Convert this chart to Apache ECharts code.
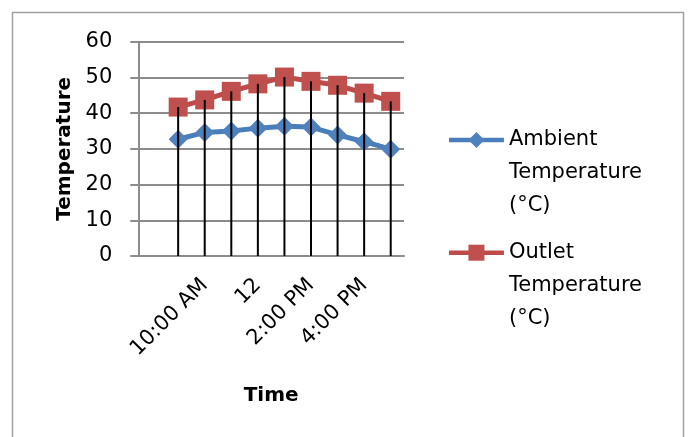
<!DOCTYPE html>
<html>
<head>
<meta charset="utf-8">
<script src="https://cdn.jsdelivr.net/npm/echarts@6/dist/echarts.min.js"></script>
<style>html,body{margin:0;padding:0;background:#fff;}#c{width:688px;height:437px;}</style>
</head>
<body>
<div id="c"></div>
<script>
const categories = ['', '9:00 AM', '10:00 AM', '11:00 AM', '12', '1:00 PM', '2:00 PM', '3:00 PM', '4:00 PM', '5:00 PM'];
const ambient = [null, 32.7, 34.6, 35.0, 35.8, 36.3, 36.1, 33.9, 32.0, 29.9];
const outlet = [null, 41.7, 43.7, 46.1, 48.2, 50.1, 48.9, 47.8, 45.6, 43.3];
const yTicks = [0, 10, 20, 30, 40, 50, 60];
const seriesNames = ['Ambient Temperature (°C)', 'Outlet Temperature (°C)'];

const FONT = 'DejaVu Sans';
const chart = echarts.init(document.getElementById('c'));

function legendFor(name, top) {
  return {
    data: [name], left: 446.7, top: top, orient: 'vertical', padding: 0,
    itemWidth: 55, itemHeight: 20, selectedMode: false,
    lineStyle: { width: 4.5 },
    formatter: n => '\n\n' + n.replace(' Temperature ', '\nTemperature\n'),
    textStyle: { fontFamily: FONT, fontSize: 21, color: '#000', lineHeight: 33 }
  };
}

chart.setOption({
  animation: false,
  backgroundColor: '#fff',
  graphic: [{
    type: 'rect', silent: true, z: -10,
    shape: { x: 12.5, y: 12.5, width: 671, height: 440 },
    style: { fill: 'none', stroke: '#a0a0a0', lineWidth: 1.5 }
  }],
  legend: [legendFor(seriesNames[0], 57.5), legendFor(seriesNames[1], 170.2)],
  grid: { left: 138.3, right: 284, top: 41.7, bottom: 181, containLabel: false },
  xAxis: {
    type: 'category', data: categories, boundaryGap: true,
    name: 'Time', nameLocation: 'middle', nameGap: 130,
    nameTextStyle: { fontFamily: FONT, fontSize: 20, fontWeight: 'bold', color: '#000' },
    axisLine: { lineStyle: { color: '#8c8c8c', width: 2 } },
    axisTick: { show: false },
    axisLabel: { interval: 1, rotate: 45, margin: 26, fontFamily: FONT, fontSize: 21, color: '#000' },
    splitLine: { show: false }
  },
  yAxis: {
    type: 'value', min: yTicks[0], max: yTicks[yTicks.length - 1], interval: 10,
    name: 'Temperature', nameLocation: 'middle', nameGap: 64,
    nameTextStyle: { fontFamily: FONT, fontSize: 20, fontWeight: 'bold', color: '#000' },
    axisLine: { show: true, lineStyle: { color: '#8c8c8c', width: 2 } },
    axisTick: { show: true, inside: false, length: 8, lineStyle: { color: '#8c8c8c', width: 2 } },
    axisLabel: { margin: 26, fontFamily: FONT, fontSize: 21, color: '#000' },
    splitLine: { show: true, lineStyle: { color: '#8c8c8c', width: 2 } }
  },
  series: [
    {
      name: seriesNames[0], type: 'line', data: ambient,
      symbol: 'diamond', symbolSize: 19, showAllSymbol: true,
      lineStyle: { color: '#4A7EBB', width: 5 },
      itemStyle: { color: '#4F81BD' }, z: 2
    },
    {
      name: seriesNames[1], type: 'line', data: outlet,
      symbol: 'rect', symbolSize: 19, showAllSymbol: true,
      lineStyle: { color: '#BE4B48', width: 5 },
      itemStyle: { color: '#C0504D' }, z: 2
    },
    {
      name: 'drop', type: 'custom', z: 5, silent: true,
      data: outlet.map((v, i) => [i, v]),
      encode: { x: 0, y: 1 },
      renderItem: function (params, api) {
        const v = api.value(1);
        if (v == null || isNaN(v)) return null;
        const p1 = api.coord([api.value(0), v]);
        const p0 = api.coord([api.value(0), 0]);
        return { type: 'line', shape: { x1: p1[0], y1: p1[1], x2: p0[0], y2: p0[1] },
                 style: { stroke: '#000', lineWidth: 2 } };
      }
    }
  ]
});
</script>
</body>
</html>
